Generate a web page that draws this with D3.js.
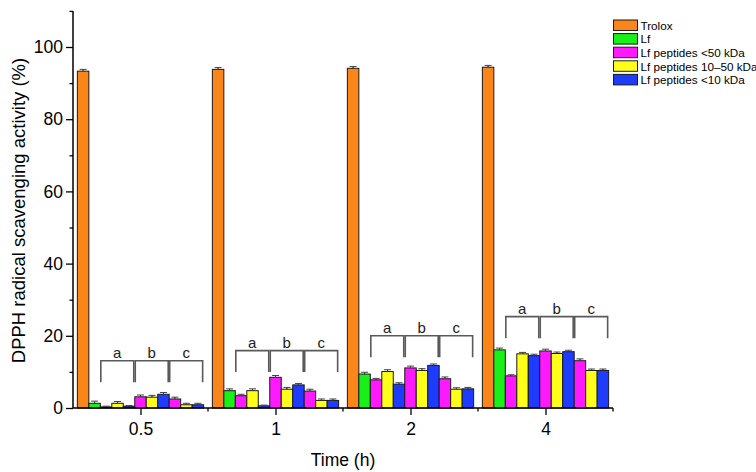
<!DOCTYPE html>
<html><head><meta charset="utf-8">
<script src="https://cdn.jsdelivr.net/npm/d3@7"></script>
<style>body{margin:0;background:#fff}svg{display:block}text{font-family:Arial,"Liberation Sans",sans-serif}</style>
</head><body><svg id="c" width="756" height="472"></svg>
<script>
const times = ["0.5", "1", "2", "4"];
const subgroups = ["a", "b", "c"];
const seriesNames = ["Trolox", "Lf", "Lf peptides <50 kDa", "Lf peptides 10\u201350 kDa", "Lf peptides <10 kDa"];
const seriesColors = ["#FA8519", "#19F019", "#FF19FF", "#FFFF19", "#1E3CFF"];
const trolox = [93.3, 93.8, 94.1, 94.4];
const troloxErr = [0.5, 0.5, 0.5, 0.5];
const lf = [1.3, 4.8, 9.4, 16.1];
const lfErr = [0.6, 0.5, 0.5, 0.5];
// per time: [a, b, c]
const pep50 = [[0.3, 3.1, 2.5], [3.4, 8.5, 4.7], [7.8, 11.1, 8.1], [8.9, 15.8, 13.1]];
const pep50Err = [[0.2, 0.5, 0.5], [0.4, 0.5, 0.5], [0.4, 0.5, 0.5], [0.3, 0.5, 0.5]];
const pep1050 = [[1.3, 3.0, 0.9], [4.8, 5.2, 2.1], [10.1, 10.4, 5.2], [15.0, 15.1, 10.4]];
const pep1050Err = [[0.5, 0.5, 0.4], [0.5, 0.5, 0.4], [0.5, 0.5, 0.4], [0.4, 0.4, 0.4]];
const pep10 = [[0.5, 3.8, 0.9], [0.6, 6.4, 2.1], [6.6, 11.8, 5.3], [14.5, 15.6, 10.4]];
const pep10Err = [[0.2, 0.5, 0.4], [0.2, 0.4, 0.4], [0.4, 0.4, 0.4], [0.4, 0.4, 0.4]];
const bracketLevels = [13.1, 15.9, 20.0, 25.3];
const yTicks = [0, 20, 40, 60, 80, 100];

const svg = d3.select("#c");
const x0 = d3.scaleBand().domain(times).range([73, 613]).padding(0);
const barKeys = ["T", "L"];
subgroups.forEach(s => barKeys.push(s + "0", s + "1", s + "2"));
const x1 = d3.scaleBand().domain(barKeys).range([0, x0.bandwidth()]).paddingInner(0).paddingOuter(0.38);
const y = d3.scaleLinear().domain([0, 110]).range([408, 10.9]);

const bars = [];
times.forEach((t, i) => {
  bars.push({t, key: "T", v: trolox[i], e: troloxErr[i], s: 0});
  bars.push({t, key: "L", v: lf[i], e: lfErr[i], s: 1});
  subgroups.forEach((g, j) => {
    bars.push({t, key: g + "0", v: pep50[i][j], e: pep50Err[i][j], s: 2});
    bars.push({t, key: g + "1", v: pep1050[i][j], e: pep1050Err[i][j], s: 3});
    bars.push({t, key: g + "2", v: pep10[i][j], e: pep10Err[i][j], s: 4});
  });
});
const bx = d => x0(d.t) + x1(d.key);
const bw = x1.bandwidth();

const eb = svg.append("g").attr("stroke", "#555").attr("stroke-width", 1);
bars.forEach(d => {
  const cx = bx(d) + bw / 2;
  const lo = y(Math.max(0, d.v - d.e));
  eb.append("line").attr("x1", cx).attr("x2", cx).attr("y1", y(d.v)).attr("y2", y(d.v + d.e));
  eb.append("line").attr("x1", cx - 3.5).attr("x2", cx + 3.5).attr("y1", lo).attr("y2", lo);
});

svg.append("g").selectAll("rect").data(bars).join("rect")
  .attr("x", bx).attr("width", bw)
  .attr("y", d => y(d.v)).attr("height", d => y(0) - y(d.v))
  .attr("fill", d => seriesColors[d.s]).attr("stroke", "#1a1a1a").attr("stroke-width", 1);

const eb2 = svg.append("g").attr("stroke", "#444").attr("stroke-width", 1);
bars.forEach(d => {
  const cx = bx(d) + bw / 2;
  eb2.append("line").attr("x1", cx).attr("x2", cx).attr("y1", y(d.v)).attr("y2", y(d.v + d.e));
  eb2.append("line").attr("x1", cx - 3.5).attr("x2", cx + 3.5).attr("y1", y(d.v + d.e)).attr("y2", y(d.v + d.e));
});

const br = svg.append("g");
times.forEach((t, i) => {
  const yt = y(bracketLevels[i]);
  subgroups.forEach(g => {
    const xl = x0(t) + x1(g + "0") + 0.5;
    const xr = x0(t) + x1(g + "2") + bw - 1;
    br.append("path").attr("d", `M${xl},${yt + 21.5}V${yt}H${xr}V${yt + 21.5}`)
      .attr("fill", "none").attr("stroke", "#5a5a5a").attr("stroke-width", 1.6);
    br.append("text").attr("x", (xl + xr) / 2).attr("y", yt - 2.5).attr("text-anchor", "middle")
      .attr("font-size", 15).attr("fill", "#222").text(g);
  });
});

const FF = "Arial, 'Liberation Sans', sans-serif";
const yAxis = d3.axisLeft(y).tickValues(yTicks).tickSize(7).tickPadding(3);
const gy = svg.append("g").attr("transform", "translate(73,0)").call(yAxis);
gy.select(".domain").attr("d", `M0,${y(110)}V${y(0)}`).attr("stroke", "#000").attr("stroke-width", 1.5);
gy.selectAll(".tick line").attr("stroke", "#000").attr("stroke-width", 1.3);
gy.selectAll(".tick text").attr("font-size", 17.5).attr("fill", "#000").style("font-family", FF);
const gyMinor = svg.append("g").attr("transform", "translate(73,0)").call(d3.axisLeft(y).tickValues([10, 30, 50, 70, 90, 110]).tickSize(3.5).tickFormat(""));
gyMinor.select(".domain").remove();
gyMinor.selectAll(".tick line").attr("stroke", "#000").attr("stroke-width", 1.3);

const xCenter = d3.scalePoint().domain(times).range([x0("0.5") + x0.bandwidth() / 2, x0("4") + x0.bandwidth() / 2]);
const gx = svg.append("g").attr("transform", `translate(0,${y(0)})`).call(d3.axisBottom(xCenter).tickSize(7).tickPadding(8));
gx.select(".domain").attr("d", `M73,0H613`).attr("stroke", "#000").attr("stroke-width", 1.5);
gx.selectAll(".tick line").attr("stroke", "#000").attr("stroke-width", 1.3);
gx.selectAll(".tick text").attr("font-size", 17.5).attr("fill", "#000").style("font-family", FF);
const bounds = times.slice(1).map(t => x0(t)).concat([613]);
const gxMinor = svg.append("g").attr("transform", `translate(0,${y(0)})`);
bounds.forEach(b => gxMinor.append("line").attr("x1", b).attr("x2", b).attr("y1", 0).attr("y2", 3.5).attr("stroke", "#000").attr("stroke-width", 1.3));

svg.append("text").attr("x", 343).attr("y", 465.5).attr("text-anchor", "middle").attr("font-size", 17.5).attr("fill", "#000").text("Time (h)");
svg.append("text").attr("transform", "translate(25,210.5) rotate(-90)").attr("text-anchor", "middle").attr("font-size", 18.5).attr("fill", "#000").text("DPPH radical scavenging activity (%)");

const lg = svg.append("g");
seriesNames.forEach((n, i) => {
  const yy = 20 + i * 13.6;
  lg.append("rect").attr("x", 613.5).attr("y", yy).attr("width", 24).attr("height", 10.5)
    .attr("fill", seriesColors[i]).attr("stroke", "#1a1a1a").attr("stroke-width", 1);
  lg.append("text").attr("x", 640.5).attr("y", yy + 9.8).attr("font-size", 11.7).attr("fill", "#000").text(n);
});
</script></body></html>
